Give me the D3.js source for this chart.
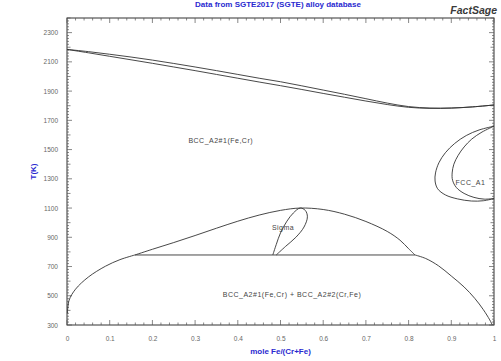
<!DOCTYPE html>
<html>
<head>
<meta charset="utf-8">
<script src="https://cdn.jsdelivr.net/npm/d3@7/dist/d3.min.js"></script>
<style>
  html, body { margin: 0; padding: 0; background: #fff; }
  svg { display: block; }
</style>
</head>
<body>
<svg id="chart" width="501" height="361"></svg>
<script>
// Cr–Fe phase diagram: x = mole Fe/(Cr+Fe), y = T(K)
const xTicks = [0, 0.1, 0.2, 0.3, 0.4, 0.5, 0.6, 0.7, 0.8, 0.9, 1];
const xTickLabels = ["0", "0.1", "0.2", "0.3", "0.4", "0.5", "0.6", "0.7", "0.8", "0.9", "1"];
const yTicks = [300, 500, 700, 900, 1100, 1300, 1500, 1700, 1900, 2100, 2300];

// liquidus and solidus
const liquidus = [[0,2185],[0.05,2170],[0.1,2152],[0.15,2133],[0.2,2112],[0.25,2089],[0.3,2065],[0.35,2040],[0.4,2014],[0.45,1988],[0.5,1964],[0.55,1936],[0.6,1907],[0.65,1878],[0.7,1848],[0.75,1818],[0.8,1794],[0.85,1784],[0.9,1784],[0.95,1792],[1,1805]];
const solidus  = [[0,2185],[0.05,2162],[0.1,2138],[0.15,2114],[0.2,2090],[0.25,2065],[0.3,2040],[0.35,2014],[0.4,1988],[0.45,1962],[0.5,1937],[0.55,1911],[0.6,1884],[0.65,1858],[0.7,1832],[0.75,1808],[0.8,1789],[0.85,1782],[0.9,1784],[0.95,1792],[1,1805]];

// gamma loop boundaries
const gammaOuter = [[1,1660],[0.965,1634],[0.935,1596],[0.908,1542],[0.886,1478],[0.871,1410],[0.863,1340],[0.862,1285],[0.868,1232],[0.886,1190],[0.914,1163],[0.947,1148],[0.975,1150],[1,1165]];
const gammaInner = [[1,1660],[0.972,1620],[0.948,1572],[0.93,1518],[0.916,1460],[0.906,1400],[0.902,1340],[0.903,1290],[0.912,1240],[0.93,1200],[0.953,1173],[0.977,1161],[1,1165]];

// bcc + sigma two-phase dome
const sigmaDome = [[0.159,779],[0.2,818],[0.25,864],[0.3,912],[0.35,962],[0.4,1010],[0.45,1052],[0.5,1084],[0.546,1100],[0.6,1090],[0.65,1058],[0.7,1008],[0.75,940],[0.78,880],[0.8,822],[0.815,779]];
// sigma single-phase lens
const sigmaLens = [[0.482,779],[0.49,850],[0.5,930],[0.515,1010],[0.53,1066],[0.546,1100],[0.558,1084],[0.563,1040],[0.555,970],[0.536,900],[0.512,838],[0.49,779]];
// eutectoid isotherm
const eutectoid = [[0.159,779],[0.815,779]];

// bcc miscibility gap
const gapLeft  = [[0.001,380],[0.005,470],[0.02,545],[0.05,628],[0.09,702],[0.124,747],[0.159,779]];
const gapRight = [[0.815,779],[0.84,755],[0.87,705],[0.9,635],[0.93,560],[0.955,482],[0.975,405],[0.99,335],[0.996,300]];

const phaseLabels = [
  { text: "BCC_A2#1(Fe,Cr)", x: 0.36, T: 1560 },
  { text: "FCC_A1", x: 0.945, T: 1272 },
  { text: "Sigma", x: 0.506, T: 965 },
  { text: "BCC_A2#1(Fe,Cr) + BCC_A2#2(Cr,Fe)", x: 0.527, T: 505 }
];

const svg = d3.select("#chart");
const mLeft = 67, mRight = 494, mTop = 18, mBottom = 325;
const x = d3.scaleLinear().domain([0, 1]).range([mLeft, mRight]);
const y = d3.scaleLinear().domain([300, 2400]).range([mBottom, mTop]);

const ink = "#333";
const blue = "#2a2ad0";
const font = "Liberation Sans, Arial, sans-serif";

// title
svg.append("text").attr("x", 278).attr("y", 7).attr("text-anchor", "middle")
  .attr("font-family", font).attr("font-size", 8).attr("font-weight", "bold")
  .attr("fill", blue).text("Data from SGTE2017 (SGTE) alloy database");

// FactSage mark
svg.append("text").attr("x", 497).attr("y", 14).attr("text-anchor", "end")
  .attr("font-family", font).attr("font-size", 10.5).attr("font-weight", "bold")
  .attr("font-style", "italic").attr("fill", "#3a3a3a").text("FactSage");

// frame
svg.append("rect").attr("x", mLeft).attr("y", mTop).attr("width", mRight - mLeft).attr("height", mBottom - mTop)
  .attr("fill", "none").attr("stroke", ink).attr("stroke-width", 1);

// inward ticks on all four sides
const tickG = svg.append("g").attr("stroke", "#555").attr("stroke-width", 0.7);
d3.range(0, 51).map(i => i / 50).forEach(v => {
  const major = Math.round(v * 50) % 5 === 0;
  const len = major ? 5 : 2.5;
  tickG.append("line").attr("x1", x(v)).attr("x2", x(v)).attr("y1", mBottom).attr("y2", mBottom - len);
  tickG.append("line").attr("x1", x(v)).attr("x2", x(v)).attr("y1", mTop).attr("y2", mTop + len);
});
d3.range(300, 2401, 20).forEach(v => {
  const len = (v - 300) % 200 === 0 ? 5 : ((v - 300) % 100 === 0 ? 3.5 : 2);
  tickG.append("line").attr("x1", mLeft).attr("x2", mLeft + len).attr("y1", y(v)).attr("y2", y(v));
  tickG.append("line").attr("x1", mRight).attr("x2", mRight - len).attr("y1", y(v)).attr("y2", y(v));
});

// tick labels
const xAxis = d3.axisBottom(x).tickValues(xTicks).tickFormat((d, i) => xTickLabels[i]).tickSize(0).tickPadding(11);
const gx = svg.append("g").attr("transform", `translate(0,${mBottom})`).call(xAxis);
gx.select(".domain").remove();
gx.selectAll("text").attr("font-family", font).attr("font-size", 6.5).attr("fill", "#666");

const yAxis = d3.axisLeft(y).tickValues(yTicks).tickFormat(d3.format("d")).tickSize(0).tickPadding(9);
const gy = svg.append("g").attr("transform", `translate(${mLeft},0)`).call(yAxis);
gy.select(".domain").remove();
gy.selectAll("text").attr("font-family", font).attr("font-size", 6.5).attr("fill", "#666");

// axis titles
svg.append("text").attr("x", (mLeft + mRight) / 2).attr("y", 354).attr("text-anchor", "middle")
  .attr("font-family", font).attr("font-size", 8).attr("font-weight", "bold")
  .attr("fill", blue).text("mole Fe/(Cr+Fe)");
svg.append("text").attr("transform", `translate(36,${(mTop + mBottom) / 2}) rotate(-90)`).attr("text-anchor", "middle")
  .attr("font-family", font).attr("font-size", 8).attr("font-weight", "bold")
  .attr("fill", blue).text("T(K)");

// phase boundaries
const line = d3.line().x(d => x(d[0])).y(d => y(d[1])).curve(d3.curveCatmullRom.alpha(0.5));
const straight = d3.line().x(d => x(d[0])).y(d => y(d[1]));
const plot = svg.append("g").attr("fill", "none").attr("stroke", ink).attr("stroke-width", 0.9);
[liquidus, solidus, gammaOuter, gammaInner, sigmaDome, sigmaLens, gapLeft, gapRight].forEach(c => {
  plot.append("path").attr("d", line(c));
});
plot.append("path").attr("d", straight(eutectoid));

// phase labels
phaseLabels.forEach(l => {
  svg.append("text").attr("x", x(l.x)).attr("y", y(l.T)).attr("text-anchor", "middle").attr("dy", "0.35em")
    .attr("font-family", font).attr("font-size", 7).attr("letter-spacing", 0.5).attr("fill", "#444")
    .text(l.text);
});
</script>
</body>
</html>
